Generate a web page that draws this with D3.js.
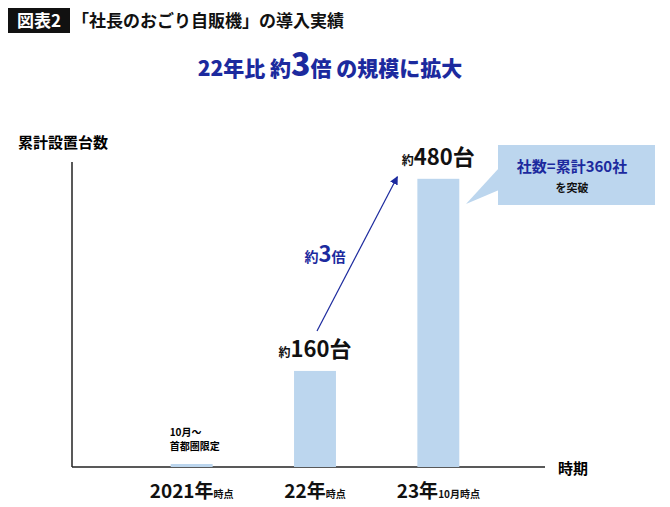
<!DOCTYPE html><html><head><meta charset="utf-8"><script src="https://cdn.jsdelivr.net/npm/d3@7"></script>
<style>body{margin:0;background:#fff}text{font-family:"Noto Sans CJK JP",sans-serif}</style></head><body>
<svg id="c" width="670" height="507"></svg>
<script>
const categories=["2021","22","23"];
const suffixes=["時点","時点","10月時点"];
const values=[5,160,480];
const valueLabels=["","160","480"];
const svg=d3.select("#c");
const x=d3.scaleBand().domain(categories).range([130,500]).paddingInner(0.66).paddingOuter(0.33);
const y=d3.scaleLinear().domain([0,508]).range([467,162]);
svg.append("rect").attr("x",8).attr("y",8).attr("width",62).attr("height",25).attr("fill","#111");
svg.append("text").attr("x",39).attr("y",27).attr("text-anchor","middle").attr("fill","#fff").attr("font-size",17).attr("font-weight","bold").text("図表2");
svg.append("text").attr("x",72).attr("y",27).attr("font-size",17).attr("font-weight","bold").attr("fill","#111").text("「社長のおごり自販機」の導入実績");
const sub=svg.append("text").attr("x",330).attr("y",76).attr("text-anchor","middle").attr("fill","#1c2a9e").attr("font-weight","900").attr("font-size",21);
sub.append("tspan").text("22年比 約");sub.append("tspan").attr("font-size",32).text("3");sub.append("tspan").text("倍 の規模に拡大");
svg.append("text").attr("x",18).attr("y",148).attr("font-size",15).attr("font-weight","bold").text("累計設置台数");
svg.append("line").attr("x1",72).attr("x2",72).attr("y1",162).attr("y2",467).attr("stroke","#222").attr("stroke-width",1.5);
svg.append("line").attr("x1",72).attr("x2",545).attr("y1",467).attr("y2",467).attr("stroke","#222").attr("stroke-width",1.5);
svg.append("text").attr("x",558).attr("y",474).attr("font-size",15).attr("font-weight","bold").text("時期");
svg.selectAll(".bar").data(values).enter().append("rect")
 .attr("x",(d,i)=>x(categories[i])).attr("width",x.bandwidth())
 .attr("y",d=>y(d)).attr("height",d=>467-y(d)).attr("fill","#bcd6ee");
categories.forEach((c,i)=>{
 const t=svg.append("text").attr("x",x(c)+x.bandwidth()/2).attr("y",498).attr("text-anchor","middle").attr("font-weight","bold").attr("fill","#111");
 t.append("tspan").attr("font-size",19).text(c+"年");
 t.append("tspan").attr("font-size",10).text(suffixes[i]);
});
values.forEach((v,i)=>{
 if(!valueLabels[i])return;
 const t=svg.append("text").attr("x",x(categories[i])+x.bandwidth()/2).attr("y",y(v)-14).attr("text-anchor","middle").attr("font-weight","bold").attr("fill","#111");
 t.append("tspan").attr("font-size",12).text("約");
 t.append("tspan").attr("font-size",22).text(valueLabels[i]+"台");
});
const c0=x(categories[0])+x.bandwidth()/2;
svg.append("text").attr("x",c0-22).attr("y",y(values[0])-28).attr("font-size",10).attr("font-weight","bold").text("10月～");
svg.append("text").attr("x",c0-22).attr("y",y(values[0])-14).attr("font-size",10).attr("font-weight","bold").text("首都圏限定");
svg.append("defs").append("marker").attr("id","ah").attr("viewBox","0 0 10 10").attr("refX",9).attr("refY",5).attr("markerWidth",7).attr("markerHeight",7).attr("orient","auto")
 .append("path").attr("d","M0,0L10,5L0,10z").attr("fill","#1c2a9e");
svg.append("line").attr("x1",x("22")+x.bandwidth()/2+2).attr("y1",y(160)-40).attr("x2",x("23")-20).attr("y2",y(480)-2).attr("stroke","#1c2a9e").attr("stroke-width",1.2).attr("marker-end","url(#ah)");
const m=svg.append("text").attr("x",325).attr("y",262).attr("text-anchor","middle").attr("fill","#1c2a9e").attr("font-weight","bold");
m.append("tspan").attr("font-size",14).text("約");m.append("tspan").attr("font-size",22).text("3");m.append("tspan").attr("font-size",14).text("倍");
svg.append("rect").attr("x",498).attr("y",145).attr("width",157).attr("height",60).attr("fill","#bcd6ee");
svg.append("path").attr("d","M499,168L466,204L499,190Z").attr("fill","#bcd6ee");
svg.append("text").attr("x",572).attr("y",172).attr("text-anchor","middle").attr("fill","#1c2a9e").attr("font-size",15).attr("font-weight","bold").text("社数=累計360社");
svg.append("text").attr("x",572).attr("y",192).attr("text-anchor","middle").attr("fill","#111").attr("font-size",11).attr("font-weight","bold").text("を突破");
</script></body></html>
